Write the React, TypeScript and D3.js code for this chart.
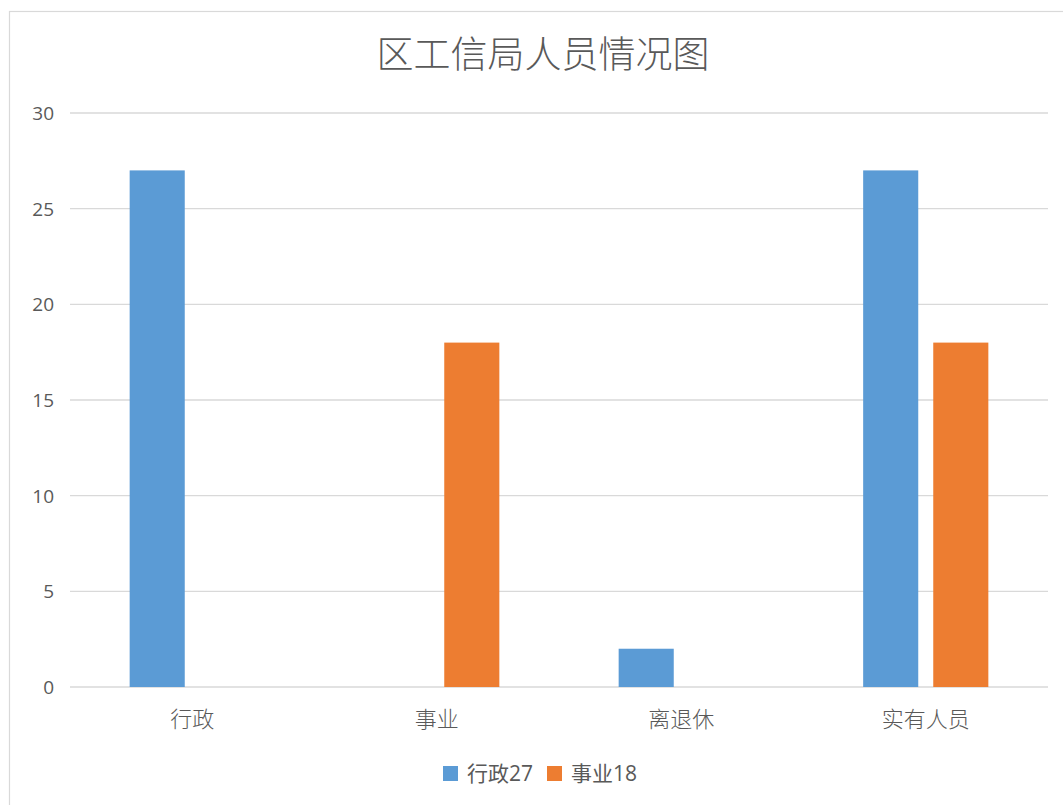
import React from "react";
import * as d3 from "d3";

const categories = ["行政", "事业", "离退休", "实有人员"];
const seriesNames = ["行政27", "事业18"];
const seriesA = [27, 0, 2, 27];
const seriesB = [0, 18, 0, 18];
const yTicks = [0, 5, 10, 15, 20, 25, 30];
const colors = ["#5B9BD5", "#ED7D31"];

const W = 1063;
const H = 805;
const font = "'Open Sans', 'Noto Sans CJK SC', sans-serif";

export default function App() {
  const left = 70, right = 1048, top = 113, bottom = 687;
  const x0 = d3.scaleBand<string>().domain(categories).range([left, right]).padding(0);
  const groupW = x0.bandwidth() * 0.512;
  const x1 = d3.scaleBand<string>().domain(seriesNames).range([0, groupW]).paddingInner(0.214);
  const y = d3.scaleLinear().domain([0, 30]).range([bottom, top]);
  const values = [seriesA, seriesB];

  return (
    <svg width={W} height={H} style={{ position: "absolute", left: 0, top: 0, background: "#fff" }}>
      <rect x={9.5} y={11.5} width={1068} height={820} fill="#fff" stroke="#D9D9D9" strokeWidth={1.2} />
      <text x={543} y={52} textAnchor="middle" dominantBaseline="central" fontSize={37} fill="#595959" fontFamily="'Noto Sans CJK SC', sans-serif" fontWeight={300}>
        区工信局人员情况图
      </text>
      {yTicks.map((t) => (
        <g key={t}>
          <line x1={left} x2={right} y1={y(t)} y2={y(t)} stroke="#D9D9D9" strokeWidth={1.3} />
          <text x={54} y={y(t)} textAnchor="end" dominantBaseline="central" fontSize={19} fill="#595959" fontFamily={font}>
            {t}
          </text>
        </g>
      ))}
      {categories.map((c, i) => (
        <g key={c} transform={`translate(${x0(c)! + (x0.bandwidth() - groupW) / 2},0)`}>
          {seriesNames.map((s, j) => {
            const v = values[j][i];
            if (v <= 0) return null;
            return <rect key={s} x={x1(s)} y={y(v)} width={x1.bandwidth()} height={y(0) - y(v)} fill={colors[j]} />;
          })}
        </g>
      ))}
      {categories.map((c) => (
        <text key={c} x={x0(c)! + x0.bandwidth() / 2} y={717} textAnchor="middle" dominantBaseline="central" fontSize={22} fill="#595959" fontFamily="'Noto Sans CJK SC', sans-serif" fontWeight={300}>
          {c}
        </text>
      ))}
      <g>
        <rect x={443} y={766} width={15} height={15} fill={colors[0]} />
        <text x={467} y={773} dominantBaseline="central" fontSize={21} fill="#595959" fontFamily={font}>{seriesNames[0]}</text>
        <rect x={547} y={766} width={15} height={15} fill={colors[1]} />
        <text x={571} y={773} dominantBaseline="central" fontSize={21} fill="#595959" fontFamily={font}>{seriesNames[1]}</text>
      </g>
    </svg>
  );
}
